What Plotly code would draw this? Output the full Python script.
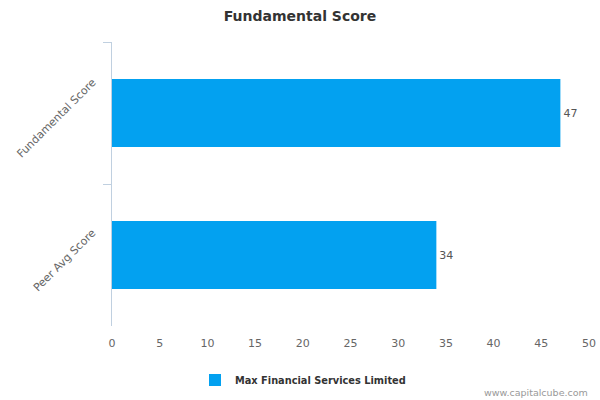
import plotly.graph_objects as go

categories = ["Fundamental Score", "Peer Avg Score"]
values = [47, 34]
series_name = "Max Financial Services Limited"
x_ticks = [0, 5, 10, 15, 20, 25, 30, 35, 40, 45, 50]

FONT = "DejaVu Sans"
AXIS_COLOR = "#C0D0E0"

fig = go.Figure()
fig.add_trace(go.Bar(
    y=categories,
    x=values,
    orientation="h",
    name=series_name,
    marker=dict(color="#03A1F0", line=dict(width=0)),
    text=[str(v) for v in values],
    textposition="outside",
    textfont=dict(family=FONT, size=11, color="#555555"),
    cliponaxis=False,
    showlegend=True,
))

# rotated category labels, centred like the reference
cat_annotations = [
    dict(
        text=c,
        xref="paper", yref="y",
        x=-(112 - 101) / 477, xanchor="right",
        y=c, yanchor="middle", yshift=-5,
        textangle=-45,
        showarrow=False,
        font=dict(family=FONT, size=11, color="#666666"),
    )
    for c in categories
]

fig.update_layout(
    width=600, height=400,
    margin=dict(l=112, r=11, t=42, b=74, autoexpand=False),
    paper_bgcolor="white",
    plot_bgcolor="white",
    font=dict(family=FONT, size=11, color="#666666"),
    title=dict(
        text="<b>Fundamental Score</b>",
        x=0.5, xanchor="center",
        y=1 - 16 / 400, yanchor="middle",
        yref="container",
        font=dict(family=FONT, size=14, color="#333333"),
    ),
    bargap=0.52,
    showlegend=True,
    legend=dict(
        orientation="h",
        xref="container", yref="container",
        x=0.505, xanchor="center",
        y=1 - 380 / 400, yanchor="middle",
        font=dict(family=FONT, size=9.8, color="#333333", weight="bold"),
        itemwidth=30,
    ),
    annotations=cat_annotations + [dict(
        text="www.capitalcube.com",
        xref="paper", yref="paper",
        x=1 + 1 / 477, xanchor="right",
        y=-(392 - 326) / 284, yanchor="middle",
        showarrow=False,
        font=dict(family=FONT, size=9.5, color="#999999"),
    )],
)

fig.update_xaxes(
    range=[0, 50],
    tickvals=x_ticks,
    ticktext=[str(t) for t in x_ticks],
    showgrid=False,
    zeroline=False,
    showline=False,
    ticks="",
    ticklabelstandoff=9,
    automargin=False,
    tickfont=dict(family=FONT, size=11, color="#666666"),
    fixedrange=True,
)
fig.update_yaxes(
    type="category",
    categoryorder="array",
    categoryarray=categories,
    autorange="reversed",
    showgrid=False,
    zeroline=False,
    showline=True,
    linecolor=AXIS_COLOR,
    linewidth=1,
    ticks="outside",
    tickson="boundaries",
    ticklen=8,
    tickcolor=AXIS_COLOR,
    showticklabels=False,
    automargin=False,
    fixedrange=True,
)

fig.write_html(
    "out.html",
    config={"displayModeBar": False},
    post_script="document.body.style.margin='0';document.body.style.padding='0';",
)
